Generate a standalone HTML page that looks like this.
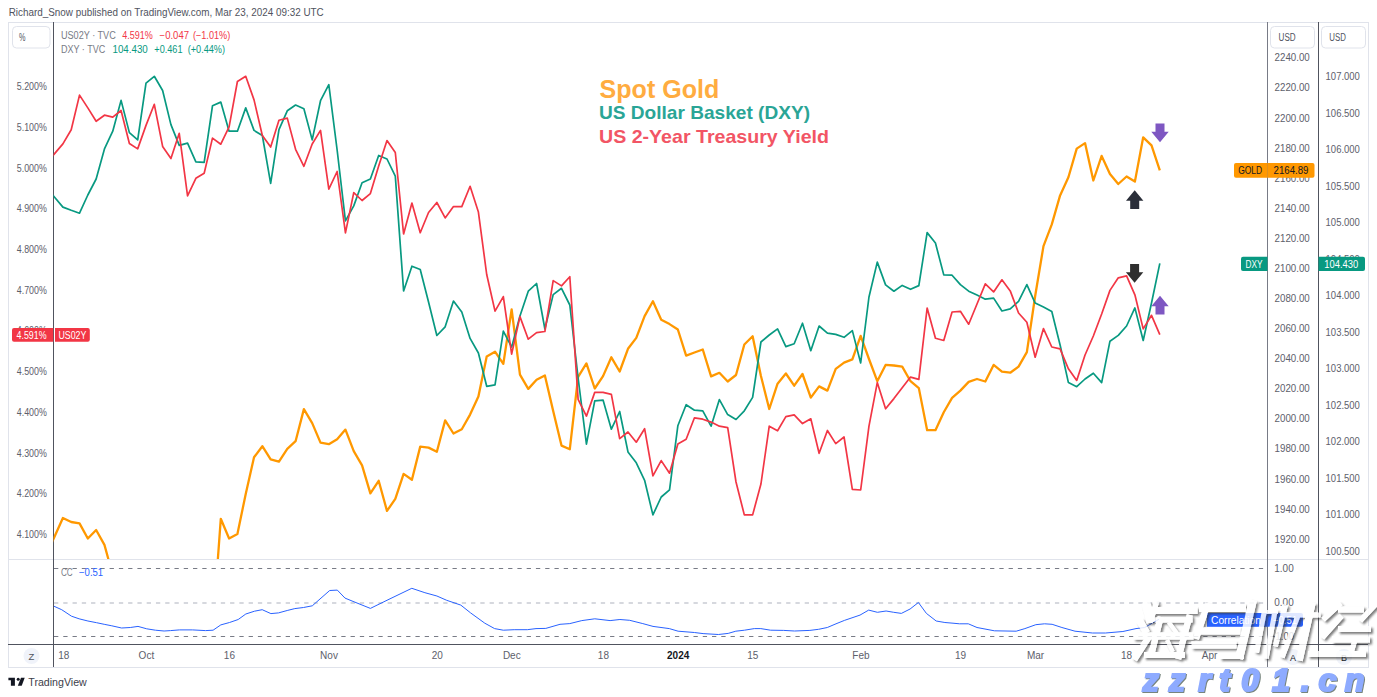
<!DOCTYPE html>
<html><head><meta charset="utf-8"><style>
html,body{margin:0;padding:0;background:#fff;width:1377px;height:697px;overflow:hidden}
svg{display:block;font-family:"Liberation Sans", sans-serif}
</style></head><body>
<svg width="1377" height="697" viewBox="0 0 1377 697">
<text x="8.7" y="15.9" font-size="10.4" fill="#50535e" text-anchor="start" font-weight="normal" textLength="315" lengthAdjust="spacingAndGlyphs">Richard_Snow published on TradingView.com, Mar 23, 2024 09:32 UTC</text>
<rect x="8.5" y="22.5" width="1360" height="645" fill="#fff" stroke="#e0e3eb" stroke-width="1"/>
<defs><clipPath id="main"><rect x="53.5" y="23" width="1213.5" height="536"/></clipPath><clipPath id="sub"><rect x="54" y="560" width="1213" height="84"/></clipPath><filter id="sh" x="-20%" y="-20%" width="140%" height="140%"><feGaussianBlur in="SourceAlpha" stdDeviation="0.9"/><feOffset dx="1.6" dy="1.6" result="b"/><feFlood flood-color="#333" flood-opacity="0.75"/><feComposite in2="b" operator="in" result="c"/><feComposite in="c" in2="SourceAlpha" operator="out" result="d"/><feMerge><feMergeNode in="d"/><feMergeNode in="SourceGraphic"/></feMerge></filter><filter id="sh2" x="-20%" y="-20%" width="140%" height="140%"><feGaussianBlur in="SourceAlpha" stdDeviation="0.4"/><feOffset dx="1" dy="1" result="b"/><feFlood flood-color="#5f6f66" flood-opacity="0.85"/><feComposite in2="b" operator="in"/><feMerge><feMergeNode/><feMergeNode in="SourceGraphic"/></feMerge></filter></defs>
<line x1="8" y1="559.5" x2="1368" y2="559.5" stroke="#e0e3eb" stroke-width="1"/>
<line x1="8" y1="644.5" x2="1368" y2="644.5" stroke="#50535e" stroke-width="1"/>
<line x1="53.5" y1="22" x2="53.5" y2="667" stroke="#50535e" stroke-width="1"/>
<line x1="1267.5" y1="22" x2="1267.5" y2="667" stroke="#787b86" stroke-width="1"/>
<line x1="1318.5" y1="22" x2="1318.5" y2="667" stroke="#50535e" stroke-width="1"/>
<rect x="12.5" y="26.5" width="37.5" height="21.5" rx="4" fill="#fff" stroke="#e0e3eb"/>
<text x="19" y="41.3" font-size="10.5" fill="#50535e" text-anchor="start" font-weight="normal" textLength="6.5" lengthAdjust="spacingAndGlyphs">%</text>
<rect x="1270.5" y="26.5" width="44" height="21.5" rx="4" fill="#fff" stroke="#e0e3eb"/>
<text x="1278.6" y="41.3" font-size="10" fill="#50535e" text-anchor="start" font-weight="normal" textLength="17.1" lengthAdjust="spacingAndGlyphs">USD</text>
<rect x="1321.5" y="26.5" width="44" height="21.5" rx="4" fill="#fff" stroke="#e0e3eb"/>
<text x="1329.3" y="41.3" font-size="10" fill="#50535e" text-anchor="start" font-weight="normal" textLength="16.6" lengthAdjust="spacingAndGlyphs">USD</text>
<text x="46.8" y="90.1" font-size="10" fill="#5d606b" text-anchor="end" font-weight="normal" textLength="30" lengthAdjust="spacingAndGlyphs">5.200%</text>
<text x="46.8" y="130.82999999999998" font-size="10" fill="#5d606b" text-anchor="end" font-weight="normal" textLength="30" lengthAdjust="spacingAndGlyphs">5.100%</text>
<text x="46.8" y="171.55999999999997" font-size="10" fill="#5d606b" text-anchor="end" font-weight="normal" textLength="30" lengthAdjust="spacingAndGlyphs">5.000%</text>
<text x="46.8" y="212.29" font-size="10" fill="#5d606b" text-anchor="end" font-weight="normal" textLength="30" lengthAdjust="spacingAndGlyphs">4.900%</text>
<text x="46.8" y="253.01999999999998" font-size="10" fill="#5d606b" text-anchor="end" font-weight="normal" textLength="30" lengthAdjust="spacingAndGlyphs">4.800%</text>
<text x="46.8" y="293.75" font-size="10" fill="#5d606b" text-anchor="end" font-weight="normal" textLength="30" lengthAdjust="spacingAndGlyphs">4.700%</text>
<text x="46.8" y="334.48" font-size="10" fill="#5d606b" text-anchor="end" font-weight="normal" textLength="30" lengthAdjust="spacingAndGlyphs">4.600%</text>
<text x="46.8" y="375.21" font-size="10" fill="#5d606b" text-anchor="end" font-weight="normal" textLength="30" lengthAdjust="spacingAndGlyphs">4.500%</text>
<text x="46.8" y="415.94" font-size="10" fill="#5d606b" text-anchor="end" font-weight="normal" textLength="30" lengthAdjust="spacingAndGlyphs">4.400%</text>
<text x="46.8" y="456.67" font-size="10" fill="#5d606b" text-anchor="end" font-weight="normal" textLength="30" lengthAdjust="spacingAndGlyphs">4.300%</text>
<text x="46.8" y="497.4" font-size="10" fill="#5d606b" text-anchor="end" font-weight="normal" textLength="30" lengthAdjust="spacingAndGlyphs">4.200%</text>
<text x="46.8" y="538.13" font-size="10" fill="#5d606b" text-anchor="end" font-weight="normal" textLength="30" lengthAdjust="spacingAndGlyphs">4.100%</text>
<text x="1274.6" y="61.4" font-size="10" fill="#5d606b" text-anchor="start" font-weight="normal" textLength="35.2" lengthAdjust="spacingAndGlyphs">2240.00</text>
<text x="1274.6" y="91.48" font-size="10" fill="#5d606b" text-anchor="start" font-weight="normal" textLength="35.2" lengthAdjust="spacingAndGlyphs">2220.00</text>
<text x="1274.6" y="121.56" font-size="10" fill="#5d606b" text-anchor="start" font-weight="normal" textLength="35.2" lengthAdjust="spacingAndGlyphs">2200.00</text>
<text x="1274.6" y="151.64000000000001" font-size="10" fill="#5d606b" text-anchor="start" font-weight="normal" textLength="35.2" lengthAdjust="spacingAndGlyphs">2180.00</text>
<text x="1274.6" y="181.72" font-size="10" fill="#5d606b" text-anchor="start" font-weight="normal" textLength="35.2" lengthAdjust="spacingAndGlyphs">2160.00</text>
<text x="1274.6" y="211.79999999999998" font-size="10" fill="#5d606b" text-anchor="start" font-weight="normal" textLength="35.2" lengthAdjust="spacingAndGlyphs">2140.00</text>
<text x="1274.6" y="241.88" font-size="10" fill="#5d606b" text-anchor="start" font-weight="normal" textLength="35.2" lengthAdjust="spacingAndGlyphs">2120.00</text>
<text x="1274.6" y="271.96" font-size="10" fill="#5d606b" text-anchor="start" font-weight="normal" textLength="35.2" lengthAdjust="spacingAndGlyphs">2100.00</text>
<text x="1274.6" y="302.03999999999996" font-size="10" fill="#5d606b" text-anchor="start" font-weight="normal" textLength="35.2" lengthAdjust="spacingAndGlyphs">2080.00</text>
<text x="1274.6" y="332.11999999999995" font-size="10" fill="#5d606b" text-anchor="start" font-weight="normal" textLength="35.2" lengthAdjust="spacingAndGlyphs">2060.00</text>
<text x="1274.6" y="362.19999999999993" font-size="10" fill="#5d606b" text-anchor="start" font-weight="normal" textLength="35.2" lengthAdjust="spacingAndGlyphs">2040.00</text>
<text x="1274.6" y="392.28" font-size="10" fill="#5d606b" text-anchor="start" font-weight="normal" textLength="35.2" lengthAdjust="spacingAndGlyphs">2020.00</text>
<text x="1274.6" y="422.35999999999996" font-size="10" fill="#5d606b" text-anchor="start" font-weight="normal" textLength="35.2" lengthAdjust="spacingAndGlyphs">2000.00</text>
<text x="1274.6" y="452.43999999999994" font-size="10" fill="#5d606b" text-anchor="start" font-weight="normal" textLength="35.2" lengthAdjust="spacingAndGlyphs">1980.00</text>
<text x="1274.6" y="482.52" font-size="10" fill="#5d606b" text-anchor="start" font-weight="normal" textLength="35.2" lengthAdjust="spacingAndGlyphs">1960.00</text>
<text x="1274.6" y="512.6" font-size="10" fill="#5d606b" text-anchor="start" font-weight="normal" textLength="35.2" lengthAdjust="spacingAndGlyphs">1940.00</text>
<text x="1274.6" y="542.68" font-size="10" fill="#5d606b" text-anchor="start" font-weight="normal" textLength="35.2" lengthAdjust="spacingAndGlyphs">1920.00</text>
<text x="1325.6" y="80.0" font-size="10" fill="#5d606b" text-anchor="start" font-weight="normal" textLength="34.3" lengthAdjust="spacingAndGlyphs">107.000</text>
<text x="1325.6" y="116.52000000000001" font-size="10" fill="#5d606b" text-anchor="start" font-weight="normal" textLength="34.3" lengthAdjust="spacingAndGlyphs">106.500</text>
<text x="1325.6" y="153.04" font-size="10" fill="#5d606b" text-anchor="start" font-weight="normal" textLength="34.3" lengthAdjust="spacingAndGlyphs">106.000</text>
<text x="1325.6" y="189.56" font-size="10" fill="#5d606b" text-anchor="start" font-weight="normal" textLength="34.3" lengthAdjust="spacingAndGlyphs">105.500</text>
<text x="1325.6" y="226.08" font-size="10" fill="#5d606b" text-anchor="start" font-weight="normal" textLength="34.3" lengthAdjust="spacingAndGlyphs">105.000</text>
<text x="1325.6" y="262.6" font-size="10" fill="#5d606b" text-anchor="start" font-weight="normal" textLength="34.3" lengthAdjust="spacingAndGlyphs">104.500</text>
<text x="1325.6" y="299.12" font-size="10" fill="#5d606b" text-anchor="start" font-weight="normal" textLength="34.3" lengthAdjust="spacingAndGlyphs">104.000</text>
<text x="1325.6" y="335.64000000000004" font-size="10" fill="#5d606b" text-anchor="start" font-weight="normal" textLength="34.3" lengthAdjust="spacingAndGlyphs">103.500</text>
<text x="1325.6" y="372.1600000000001" font-size="10" fill="#5d606b" text-anchor="start" font-weight="normal" textLength="34.3" lengthAdjust="spacingAndGlyphs">103.000</text>
<text x="1325.6" y="408.68000000000006" font-size="10" fill="#5d606b" text-anchor="start" font-weight="normal" textLength="34.3" lengthAdjust="spacingAndGlyphs">102.500</text>
<text x="1325.6" y="445.20000000000005" font-size="10" fill="#5d606b" text-anchor="start" font-weight="normal" textLength="34.3" lengthAdjust="spacingAndGlyphs">102.000</text>
<text x="1325.6" y="481.72" font-size="10" fill="#5d606b" text-anchor="start" font-weight="normal" textLength="34.3" lengthAdjust="spacingAndGlyphs">101.500</text>
<text x="1325.6" y="518.24" font-size="10" fill="#5d606b" text-anchor="start" font-weight="normal" textLength="34.3" lengthAdjust="spacingAndGlyphs">101.000</text>
<text x="1325.6" y="554.7600000000001" font-size="10" fill="#5d606b" text-anchor="start" font-weight="normal" textLength="34.3" lengthAdjust="spacingAndGlyphs">100.500</text>
<text x="60.9" y="38.7" font-size="10" fill="#787b86" text-anchor="start" font-weight="normal" textLength="54.9" lengthAdjust="spacingAndGlyphs">US02Y · TVC</text>
<text x="122.3" y="38.7" font-size="10" fill="#f23645" text-anchor="start" font-weight="normal" textLength="30.5" lengthAdjust="spacingAndGlyphs">4.591%</text>
<text x="159.6" y="38.7" font-size="10" fill="#f23645" text-anchor="start" font-weight="normal" textLength="29.4" lengthAdjust="spacingAndGlyphs">−0.047</text>
<text x="192.9" y="38.7" font-size="10" fill="#f23645" text-anchor="start" font-weight="normal" textLength="37.3" lengthAdjust="spacingAndGlyphs">(−1.01%)</text>
<text x="60.9" y="53.1" font-size="10" fill="#787b86" text-anchor="start" font-weight="normal" textLength="44.4" lengthAdjust="spacingAndGlyphs">DXY · TVC</text>
<text x="112.5" y="53.1" font-size="10" fill="#089981" text-anchor="start" font-weight="normal" textLength="35.3" lengthAdjust="spacingAndGlyphs">104.430</text>
<text x="154.3" y="53.1" font-size="10" fill="#089981" text-anchor="start" font-weight="normal" textLength="28.2" lengthAdjust="spacingAndGlyphs">+0.461</text>
<text x="187.7" y="53.1" font-size="10" fill="#089981" text-anchor="start" font-weight="normal" textLength="37.3" lengthAdjust="spacingAndGlyphs">(+0.44%)</text>
<text x="599.6" y="97.5" font-size="26" fill="#ffac40" text-anchor="start" font-weight="bold" textLength="119.6" lengthAdjust="spacingAndGlyphs">Spot Gold</text>
<text x="599" y="118.6" font-size="18.5" fill="#2aa596" text-anchor="start" font-weight="bold" textLength="211" lengthAdjust="spacingAndGlyphs">US Dollar Basket (DXY)</text>
<text x="599" y="142.5" font-size="18.5" fill="#f25565" text-anchor="start" font-weight="bold" textLength="230" lengthAdjust="spacingAndGlyphs">US 2-Year Treasury Yield</text>
<g clip-path="url(#main)" fill="none" stroke-linejoin="round">
<polyline points="46.28,555.00 54.59,536.50 62.90,518.00 71.21,522.00 79.52,523.40 87.83,538.50 96.14,530.00 104.45,544.90 112.76,575.00 121.07,620.00 129.38,620.00 137.69,620.00 146.00,620.00 154.31,620.00 162.62,620.00 170.93,620.00 179.24,620.00 187.55,620.00 195.86,620.00 204.17,620.00 212.48,633.00 220.79,518.80 229.10,538.50 237.41,534.00 245.72,494.00 254.03,457.30 262.34,446.20 270.65,459.30 278.96,461.70 287.27,448.80 295.58,441.20 303.89,409.10 312.20,423.10 320.51,442.60 328.82,444.20 337.13,439.20 345.44,429.60 353.75,451.20 362.06,465.30 370.37,493.40 378.68,480.80 386.99,510.90 395.30,498.80 403.61,473.90 411.92,479.80 420.23,446.60 428.54,447.60 436.85,451.80 445.16,420.40 453.47,433.50 461.78,429.20 470.09,414.60 478.40,396.50 486.71,356.50 495.02,351.70 503.33,363.80 511.64,309.40 519.95,374.70 528.26,388.90 536.57,379.80 544.88,375.40 553.19,411.00 561.50,445.60 569.81,449.20 578.12,376.90 586.43,363.40 594.74,388.50 603.05,376.10 611.36,357.30 619.67,371.50 627.98,348.80 636.29,337.90 644.60,316.10 652.91,301.30 661.22,319.80 669.53,324.10 677.84,329.50 686.15,355.60 694.46,352.50 702.77,349.50 711.08,376.40 719.39,372.80 727.70,381.50 736.01,375.00 744.32,344.50 752.63,336.20 760.94,376.00 769.25,409.00 777.56,383.70 785.87,373.50 794.18,385.70 802.49,374.00 810.80,397.60 819.11,386.40 827.42,390.60 835.73,368.80 844.04,362.60 852.35,359.40 860.66,335.90 868.97,359.00 877.28,381.20 885.59,364.90 893.90,365.50 902.21,366.60 910.52,381.20 918.83,388.10 927.14,430.20 935.45,430.20 943.76,412.30 952.07,397.90 960.38,390.60 968.69,381.90 977.00,379.00 985.31,381.50 993.62,364.90 1001.93,371.70 1010.24,372.70 1018.55,366.60 1026.86,352.10 1035.17,296.00 1043.48,246.10 1051.79,224.40 1060.10,195.40 1068.41,177.20 1076.72,148.60 1085.03,143.10 1093.34,180.50 1101.65,155.90 1109.96,173.90 1118.27,184.00 1126.58,176.50 1134.89,181.60 1143.20,137.30 1151.51,145.30 1159.82,170.40" stroke="#ff9800" stroke-width="2.3"/>
<polyline points="46.28,187.30 54.59,197.20 62.90,207.10 71.21,210.30 79.52,213.20 87.83,195.00 96.14,179.00 104.45,148.90 112.76,131.20 121.07,100.40 129.38,132.60 137.69,139.90 146.00,83.20 154.31,76.30 162.62,90.50 170.93,124.60 179.24,145.40 187.55,143.10 195.86,161.90 204.17,162.30 212.48,105.80 220.79,102.10 229.10,131.20 237.41,131.20 245.72,107.90 254.03,130.40 262.34,135.50 270.65,183.40 278.96,129.70 287.27,110.80 295.58,105.00 303.89,108.70 312.20,139.90 320.51,100.70 328.82,84.70 337.13,150.00 345.44,220.90 353.75,205.90 362.06,182.70 370.37,179.00 378.68,155.50 386.99,159.00 395.30,176.10 403.61,291.00 411.92,266.20 420.23,269.50 428.54,302.00 436.85,335.50 445.16,326.80 453.47,301.10 461.78,312.00 470.09,338.40 478.40,353.00 486.71,386.30 495.02,384.90 503.33,331.20 511.64,347.10 519.95,315.90 528.26,291.20 536.57,283.50 544.88,329.00 553.19,294.60 561.50,288.30 569.81,305.00 578.12,378.00 586.43,444.20 594.74,400.80 603.05,400.10 611.36,429.20 619.67,411.50 627.98,451.90 636.29,462.80 644.60,480.30 652.91,514.90 661.22,497.00 669.53,489.80 677.84,425.80 686.15,404.70 694.46,410.20 702.77,410.80 711.08,426.20 719.39,399.60 727.70,414.60 736.01,419.50 744.32,410.80 752.63,397.40 760.94,342.00 769.25,335.00 777.56,328.90 785.87,346.60 794.18,343.70 802.49,323.20 810.80,350.70 819.11,326.00 827.42,333.20 835.73,334.40 844.04,337.30 852.35,330.60 860.66,363.00 868.97,297.00 877.28,262.10 885.59,284.90 893.90,291.20 902.21,285.40 910.52,289.30 918.83,285.60 927.14,232.60 935.45,243.00 943.76,274.90 952.07,275.20 960.38,284.60 968.69,291.20 977.00,295.10 985.31,299.20 993.62,298.10 1001.93,311.00 1010.24,308.90 1018.55,301.30 1026.86,284.60 1035.17,303.10 1043.48,307.10 1051.79,311.50 1060.10,345.00 1068.41,382.60 1076.72,386.70 1085.03,379.00 1093.34,373.20 1101.65,382.60 1109.96,341.20 1118.27,335.40 1126.58,326.00 1134.89,307.90 1143.20,340.50 1151.51,303.00 1159.82,263.30" stroke="#089981" stroke-width="1.7"/>
<polyline points="46.28,163.30 54.59,153.60 62.90,143.90 71.21,129.70 79.52,95.10 87.83,107.90 96.14,121.30 104.45,115.20 112.76,117.10 121.07,110.50 129.38,143.50 137.69,148.90 146.00,125.40 154.31,104.30 162.62,146.40 170.93,158.60 179.24,133.30 187.55,195.80 195.86,178.30 204.17,173.20 212.48,138.10 220.79,144.20 229.10,126.80 237.41,81.50 245.72,76.30 254.03,99.90 262.34,135.50 270.65,147.10 278.96,120.30 287.27,118.10 295.58,149.30 303.89,166.30 312.20,144.00 320.51,130.40 328.82,189.20 337.13,171.50 345.44,232.80 353.75,192.60 362.06,200.50 370.37,193.60 378.68,166.00 386.99,140.60 395.30,152.50 403.61,234.00 411.92,203.00 420.23,232.80 428.54,212.50 436.85,202.50 445.16,217.90 453.47,206.60 461.78,206.60 470.09,186.30 478.40,212.10 486.71,274.50 495.02,311.10 503.33,296.60 511.64,354.10 519.95,316.60 528.26,339.20 536.57,332.60 544.88,331.50 553.19,280.60 561.50,285.90 569.81,276.70 578.12,399.40 586.43,416.10 594.74,392.40 603.05,392.40 611.36,394.30 619.67,438.60 627.98,432.00 636.29,442.20 644.60,428.70 652.91,475.80 661.22,460.60 669.53,473.20 677.84,443.90 686.15,439.30 694.46,417.80 702.77,419.20 711.08,422.10 719.39,426.20 727.70,427.60 736.01,482.00 744.32,514.90 752.63,514.90 760.94,484.00 769.25,426.20 777.56,430.80 785.87,416.60 794.18,414.90 802.49,423.60 810.80,418.80 819.11,453.30 827.42,430.50 835.73,443.60 844.04,437.00 852.35,489.30 860.66,490.00 868.97,426.10 877.28,382.60 885.59,408.80 893.90,398.60 902.21,387.70 910.52,377.10 918.83,379.40 927.14,308.00 935.45,338.30 943.76,340.50 952.07,312.00 960.38,311.30 968.69,324.20 977.00,304.00 985.31,283.90 993.62,291.90 1001.93,279.80 1010.24,290.90 1018.55,313.00 1026.86,322.30 1035.17,357.20 1043.48,328.60 1051.79,347.00 1060.10,348.90 1068.41,368.80 1076.72,380.40 1085.03,355.00 1093.34,336.00 1101.65,314.00 1109.96,290.40 1118.27,277.80 1126.58,275.90 1134.89,294.80 1143.20,328.90 1151.51,315.30 1159.82,334.70" stroke="#f23645" stroke-width="1.7"/>
</g>
<path d="M1160,142.3 L1168.7,131.8 L1164.5,131.8 L1164.5,123.60000000000001 L1155.5,123.60000000000001 L1155.5,131.8 L1151.3,131.8 Z" fill="#7e57c2"/>
<path d="M1134.7,190.3 L1143.4,200.8 L1139.2,200.8 L1139.2,209.0 L1130.2,209.0 L1130.2,200.8 L1126.0,200.8 Z" fill="#2a2e39"/>
<path d="M1134.6,282.7 L1143.3,272.2 L1139.1,272.2 L1139.1,264.0 L1130.1,264.0 L1130.1,272.2 L1125.8999999999999,272.2 Z" fill="#2f2f2f"/>
<path d="M1160,295.8 L1168.7,306.3 L1164.5,306.3 L1164.5,314.5 L1155.5,314.5 L1155.5,306.3 L1151.3,306.3 Z" fill="#7e57c2"/>
<path d="M1236,163.1 h31.5 v14.7 h-31.5 a2,2 0 0 1 -2,-2 v-10.7 a2,2 0 0 1 2,-2 z" fill="#ff9800"/>
<text x="1250.2" y="174.2" font-size="10" fill="#131722" text-anchor="middle" font-weight="normal" textLength="24" lengthAdjust="spacingAndGlyphs">GOLD</text>
<path d="M1267.5,163.1 h45 a2,2 0 0 1 2,2 v10.7 a2,2 0 0 1 -2,2 h-45 z" fill="#ff9800"/>
<text x="1291" y="174.2" font-size="10" fill="#131722" text-anchor="middle" font-weight="normal" textLength="35" lengthAdjust="spacingAndGlyphs">2164.89</text>
<path d="M1243,256.8 h24.5 v14.3 h-24.5 a2,2 0 0 1 -2,-2 v-10.3 a2,2 0 0 1 2,-2 z" fill="#089981"/>
<text x="1254" y="267.7" font-size="10" fill="#fff" text-anchor="middle" font-weight="normal" textLength="17" lengthAdjust="spacingAndGlyphs">DXY</text>
<path d="M1318.5,256.8 h44.5 a2,2 0 0 1 2,2 v10.3 a2,2 0 0 1 -2,2 h-44.5 z" fill="#089981"/>
<text x="1341.2" y="267.7" font-size="10" fill="#fff" text-anchor="middle" font-weight="normal" textLength="34" lengthAdjust="spacingAndGlyphs">104.430</text>
<path d="M14,327.9 h39.3 v13.9 h-39.3 a2,2 0 0 1 -2,-2 v-9.9 a2,2 0 0 1 2,-2 z" fill="#f23645"/>
<text x="31.5" y="338.6" font-size="10" fill="#fff" text-anchor="middle" font-weight="normal" textLength="30" lengthAdjust="spacingAndGlyphs">4.591%</text>
<path d="M55,327.9 h32.8 a2,2 0 0 1 2,2 v9.9 a2,2 0 0 1 -2,2 h-32.8 z" fill="#f23645"/>
<text x="72.4" y="338.6" font-size="10" fill="#fff" text-anchor="middle" font-weight="normal" textLength="28" lengthAdjust="spacingAndGlyphs">US02Y</text>
<g clip-path="url(#sub)">
<line x1="54" y1="568.5" x2="1267" y2="568.5" stroke="#787b86" stroke-width="1" stroke-dasharray="4.3 4.968"/>
<line x1="54" y1="603" x2="1267" y2="603" stroke="#d6d8de" stroke-width="2" stroke-dasharray="4.3 4.968"/>
<line x1="54" y1="636.5" x2="1267" y2="636.5" stroke="#787b86" stroke-width="1" stroke-dasharray="4.3 4.968"/>
<polyline points="53.00,605.80 61.70,609.70 71.50,616.20 79.10,618.80 87.90,621.00 96.60,622.70 104.20,624.30 111.80,625.80 121.60,628.00 130.30,627.50 138.00,626.40 146.70,628.80 155.40,630.20 164.10,631.00 170.60,630.60 179.40,629.90 192.40,629.90 205.50,630.60 213.10,630.20 220.80,624.90 229.50,622.50 238.20,619.50 245.80,614.00 254.50,611.20 262.20,609.70 270.90,613.60 278.50,612.90 287.20,610.50 294.80,608.60 303.50,607.50 312.30,605.80 321.00,598.10 329.70,590.50 337.30,590.10 345.00,598.10 353.00,601.40 370.40,608.40 390.00,598.80 411.80,588.30 424.90,592.70 436.90,596.00 446.70,600.30 460.80,605.10 470.60,612.90 484.80,623.20 494.60,628.60 503.30,630.20 514.20,629.70 527.30,629.70 536.00,628.60 545.80,628.40 560.00,624.30 569.80,623.60 581.80,620.60 594.80,618.80 610.10,620.60 619.90,619.50 629.70,620.30 642.80,623.60 653.00,626.40 669.30,628.60 678.10,631.20 694.40,632.50 703.10,633.60 718.40,634.50 728.20,633.40 735.80,631.20 744.50,630.20 754.30,628.60 760.80,628.60 770.60,630.20 783.70,630.40 794.60,631.00 809.90,630.40 818.60,629.30 827.30,627.50 836.00,623.80 844.70,620.30 860.00,615.10 868.70,610.10 877.40,612.30 886.10,611.00 893.70,612.30 901.40,613.40 910.10,609.00 918.40,602.50 926.40,613.40 936.20,621.00 944.90,622.50 953.00,623.20 959.50,623.80 968.30,623.80 977.00,627.50 994.40,630.80 1016.20,631.20 1024.90,628.60 1035.80,624.70 1044.50,623.80 1052.10,624.30 1061.90,627.50 1075.00,631.20 1092.40,633.00 1105.50,633.00 1122.90,631.50 1136.00,628.60 1144.70,627.50 1158.90,619.30" fill="none" stroke="#2962ff" stroke-width="1"/>
</g>
<text x="61" y="575.5" font-size="10" fill="#787b86" text-anchor="start" font-weight="normal" textLength="11.7" lengthAdjust="spacingAndGlyphs">CC</text>
<text x="79" y="575.5" font-size="10" fill="#2962ff" text-anchor="start" font-weight="normal" textLength="24.2" lengthAdjust="spacingAndGlyphs">−0.51</text>
<text x="1274.3" y="572" font-size="10" fill="#5d606b" text-anchor="start" font-weight="normal" textLength="19.4" lengthAdjust="spacingAndGlyphs">1.00</text>
<text x="1274.3" y="606" font-size="10" fill="#5d606b" text-anchor="start" font-weight="normal" textLength="19.4" lengthAdjust="spacingAndGlyphs">0.00</text>
<text x="1270" y="640" font-size="10" fill="#5d606b" text-anchor="start" font-weight="normal" textLength="24" lengthAdjust="spacingAndGlyphs">−1.00</text>
<rect x="1207" y="613" width="60.5" height="13.8" fill="#2962ff"/>
<text x="1211" y="623.8" font-size="10" fill="#fff" text-anchor="start" font-weight="normal" textLength="50" lengthAdjust="spacingAndGlyphs">Correlation</text>
<path d="M1267.5,613 h33.5 a2,2 0 0 1 2,2 v9.8 a2,2 0 0 1 -2,2 h-33.5 z" fill="#2962ff"/>
<text x="1285" y="623.8" font-size="10" fill="#fff" text-anchor="middle" font-weight="normal" textLength="24" lengthAdjust="spacingAndGlyphs">−0.51</text>
<text x="63.7" y="659" font-size="10" fill="#5d606b" text-anchor="middle" font-weight="normal">18</text>
<text x="146.4" y="659" font-size="10" fill="#5d606b" text-anchor="middle" font-weight="normal">Oct</text>
<text x="229.4" y="659" font-size="10" fill="#5d606b" text-anchor="middle" font-weight="normal">16</text>
<text x="329" y="659" font-size="10" fill="#5d606b" text-anchor="middle" font-weight="normal">Nov</text>
<text x="437.2" y="659" font-size="10" fill="#5d606b" text-anchor="middle" font-weight="normal">20</text>
<text x="511.8" y="659" font-size="10" fill="#5d606b" text-anchor="middle" font-weight="normal">Dec</text>
<text x="603.4" y="659" font-size="10" fill="#5d606b" text-anchor="middle" font-weight="normal">18</text>
<text x="752.8" y="659" font-size="10" fill="#5d606b" text-anchor="middle" font-weight="normal">15</text>
<text x="860.9" y="659" font-size="10" fill="#5d606b" text-anchor="middle" font-weight="normal">Feb</text>
<text x="960.6" y="659" font-size="10" fill="#5d606b" text-anchor="middle" font-weight="normal">19</text>
<text x="1035.5" y="659" font-size="10" fill="#5d606b" text-anchor="middle" font-weight="normal">Mar</text>
<text x="1126.5" y="659" font-size="10" fill="#5d606b" text-anchor="middle" font-weight="normal">18</text>
<text x="1209.5" y="659" font-size="10" fill="#5d606b" text-anchor="middle" font-weight="normal">Apr</text>
<text x="678.2" y="659" font-size="10" fill="#131722" text-anchor="middle" font-weight="bold">2024</text>
<circle cx="31.5" cy="656" r="8" fill="#f0f3fa"/>
<text x="31.5" y="659.5" font-size="9.5" fill="#50535e" text-anchor="middle" font-weight="normal">Z</text>
<circle cx="1293" cy="657" r="8" fill="#f0f3fa"/>
<text x="1293" y="660.5" font-size="9" fill="#131722" text-anchor="middle" font-weight="normal">A</text>
<circle cx="1344" cy="657" r="8" fill="#f0f3fa"/>
<text x="1344" y="660.5" font-size="9" fill="#131722" text-anchor="middle" font-weight="normal">B</text>
<g fill="#131722"><path d="M8.4,677.8 h6.5 v8 h-4 v-5.6 h-2.5 z"/><circle cx="18.2" cy="679.3" r="1.5"/><path d="M21,677.8 h3.7 l-3,8 h-3.9 z"/></g>
<text x="28.3" y="685.8" font-size="10.5" fill="#3d404a" text-anchor="start" font-weight="normal" textLength="58.5" lengthAdjust="spacingAndGlyphs">TradingView</text>
<g filter="url(#sh)" opacity="0.85" stroke="#fff" fill="none" stroke-linecap="square">
<line x1="1147" y1="607" x2="1150" y2="618" stroke-width="9"/>
<line x1="1141" y1="623" x2="1145" y2="630" stroke-width="7"/>
<line x1="1136" y1="657" x2="1147" y2="640" stroke-width="6"/>
<line x1="1155" y1="610.5" x2="1194" y2="610.5" stroke-width="7"/>
<line x1="1156" y1="604" x2="1151" y2="620" stroke-width="5"/>
<line x1="1160" y1="620" x2="1152" y2="652" stroke-width="6"/>
<line x1="1189" y1="618" x2="1179" y2="656" stroke-width="6"/>
<line x1="1158" y1="620" x2="1190" y2="620" stroke-width="5"/>
<line x1="1137" y1="636" x2="1190" y2="636" stroke-width="7"/>
<line x1="1170" y1="624" x2="1176" y2="632" stroke-width="4"/>
<line x1="1168" y1="642" x2="1172" y2="650" stroke-width="4"/>
<line x1="1147" y1="655" x2="1182" y2="655" stroke-width="6"/>
<line x1="1203" y1="608" x2="1242" y2="608" stroke-width="8"/>
<line x1="1207" y1="606" x2="1197" y2="636" stroke-width="6"/>
<line x1="1198" y1="631" x2="1237" y2="631" stroke-width="7"/>
<line x1="1195" y1="645" x2="1233" y2="645" stroke-width="7"/>
<line x1="1252" y1="604" x2="1240" y2="655" stroke-width="8"/>
<line x1="1241" y1="656" x2="1223" y2="656" stroke-width="6"/>
<line x1="1264" y1="613" x2="1257" y2="650" stroke-width="5"/>
<line x1="1274.5" y1="614" x2="1266.5" y2="656" stroke-width="5"/>
<line x1="1285" y1="607" x2="1276" y2="644" stroke-width="5"/>
<line x1="1297.5" y1="617" x2="1283" y2="655" stroke-width="5"/>
<line x1="1311.5" y1="606" x2="1300" y2="657" stroke-width="7"/>
<line x1="1265" y1="612" x2="1276" y2="612" stroke-width="4"/>
<line x1="1283" y1="615" x2="1318" y2="615" stroke-width="5"/>
<line x1="1325" y1="618" x2="1339" y2="605" stroke-width="5"/>
<line x1="1324" y1="636" x2="1340" y2="618" stroke-width="5"/>
<line x1="1341" y1="609.5" x2="1361" y2="609.5" stroke-width="6"/>
<line x1="1362" y1="619" x2="1376" y2="604" stroke-width="5"/>
<line x1="1341" y1="629" x2="1368" y2="629" stroke-width="6"/>
<line x1="1335" y1="639.5" x2="1367" y2="639.5" stroke-width="6"/>
<line x1="1355" y1="640" x2="1351" y2="653" stroke-width="5"/>
<line x1="1311" y1="654" x2="1363" y2="654" stroke-width="6"/>
</g>
<text x="1142.7 1168.8999999999999 1198.3 1219.3 1241.3 1272.0 1300.7 1318.6 1344.7" y="690.6" font-size="32" font-weight="bold" font-style="italic" fill="#8eabff" stroke="#8eabff" stroke-width="2.2" filter="url(#sh2)">zzrt01.cn</text>
</svg>
</body></html>
